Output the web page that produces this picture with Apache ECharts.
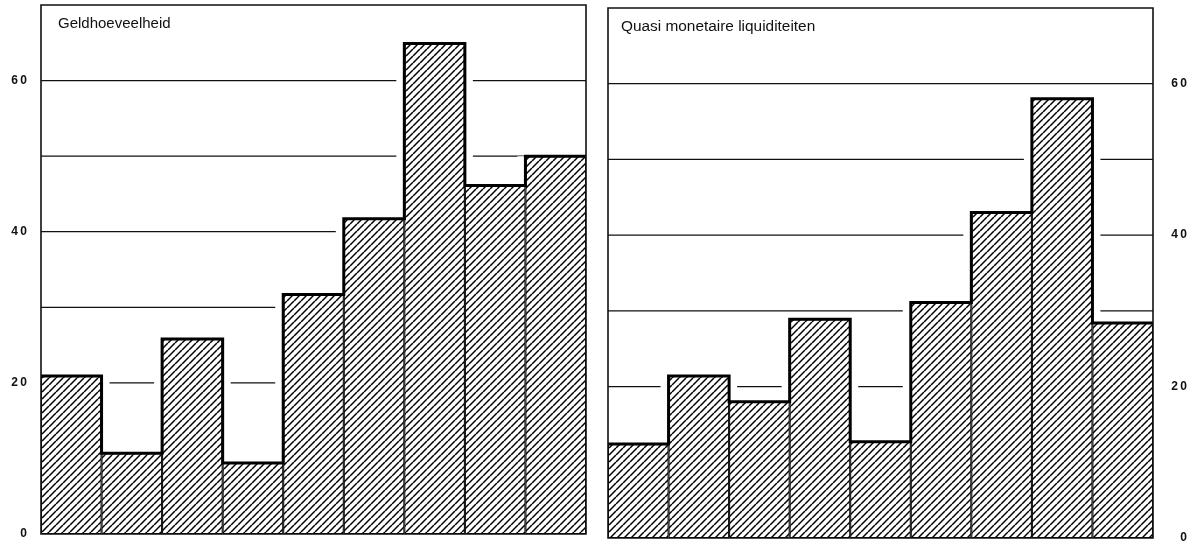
<!DOCTYPE html>
<html>
<head>
<meta charset="utf-8">
<script src="https://cdn.jsdelivr.net/npm/echarts@6/dist/echarts.min.js"></script>
<style>
    html, body {margin: 0; padding: 0; background: #fff;}
    #main {width: 1202px; height: 545px;}
</style>
</head>
<body>
<div id="main"></div>
<script>
// periods (no labels printed on the x axis)
let periods = ['1', '2', '3', '4', '5', '6', '7', '8', '9'];
// values
let geldhoeveelheid = [20.9, 10.7, 25.8, 9.4, 31.7, 41.7, 64.9, 46.1, 50.0];
let quasi_monetair = [12.4, 21.4, 18.0, 28.9, 12.7, 31.1, 43.0, 58.0, 28.4];
let y_ticks = [0, 20, 40, 60];
// horizontal rules that are printed (none at 10)
let rule_values = [20, 30, 40, 50, 60];

let panel_titles = ['Geldhoeveelheid', 'Quasi monetaire liquiditeiten'];

// hatch tile, lines going up to the right
function make_hatch() {
    let c = document.createElement('canvas');
    c.width = 7;
    c.height = 7;
    let ctx = c.getContext('2d');
    ctx.fillStyle = '#fff';
    ctx.fillRect(0, 0, 7, 7);
    ctx.strokeStyle = '#000';
    ctx.lineWidth = 1.5;
    for (let k = -7; k <= 7; k += 7) {
        ctx.beginPath();
        ctx.moveTo(k, 7);
        ctx.lineTo(k + 7, 0);
        ctx.stroke();
    }
    return c;
}
let hatch = make_hatch();

// points for the thick outline on top of the bars
function step_points(vals) {
    let pts = vals.map((v, i) => [i, v]);
    pts.push([vals.length, vals[vals.length - 1]]);
    return pts;
}

// one full-width rule per value
function render_rule(params, api) {
    let y = api.coord([0, api.value(0)])[1];
    let cs = params.coordSys;
    return {
        type: 'line',
        shape: {x1: cs.x, y1: y, x2: cs.x + cs.width, y2: y},
        style: {stroke: '#111', lineWidth: 1.2}
    };
}

// white band next to each bar so the rules stop short of it
function render_halo(params, api) {
    let idx = api.value(0);
    let v = api.value(1);
    let top = api.coord([idx, v]);
    let base = api.coord([idx, 0]);
    let w = api.size([1, 0])[0];
    return {
        type: 'rect',
        shape: {x: top[0] - w / 2 - 8, y: top[1], width: w + 16, height: base[1] - top[1]},
        style: {fill: '#fff'}
    };
}

function tick_label(v) {
    if (y_ticks.indexOf(v) < 0) return '';
    return String(v).split('').join('\u2009');
}

function y_axis(grid_index, pos) {
    return {
        type: 'value',
        gridIndex: grid_index,
        position: pos,
        min: 0,
        max: 70,
        interval: 10,
        axisLine: {show: false},
        axisTick: {show: false},
        axisLabel: {
            formatter: tick_label,
            margin: pos === 'left' ? 14 : 34,
            align: 'right',
            color: '#111',
            fontFamily: 'Liberation Sans',
            fontWeight: 'bold',
            fontSize: 12
        },
        splitLine: {show: false}
    };
}

function panel_series(vals, cat_axis, val_axis, y_index) {
    let pts = vals.map((v, i) => [i, v]);
    return [
        {
            type: 'custom',
            xAxisIndex: cat_axis,
            yAxisIndex: y_index,
            renderItem: render_rule,
            encode: {y: 0},
            data: rule_values.map(v => [v]),
            z: 0,
            silent: true
        },
        {
            type: 'custom',
            xAxisIndex: cat_axis,
            yAxisIndex: y_index,
            renderItem: render_halo,
            data: pts,
            z: 1,
            silent: true
        },
        {
            type: 'bar',
            xAxisIndex: cat_axis,
            yAxisIndex: y_index,
            data: vals,
            barCategoryGap: 0,
            itemStyle: {color: {image: hatch, repeat: 'repeat'}, borderColor: '#000', borderWidth: 1},
            z: 2,
            silent: true
        },
        {
            type: 'line',
            xAxisIndex: val_axis,
            yAxisIndex: y_index,
            data: step_points(vals),
            step: 'end',
            symbol: 'none',
            lineStyle: {color: '#000', width: 3, join: 'miter'},
            z: 3,
            silent: true
        }
    ];
}

var chart = echarts.init(document.getElementById('main'));
var option = {
    backgroundColor: '#fff',
    animation: false,
    title: [
        {text: panel_titles[0], left: 53, top: 11,
            textStyle: {fontFamily: 'Liberation Sans', fontWeight: 'normal', fontSize: 15, color: '#111'}},
        {text: panel_titles[1], left: 616, top: 14,
            textStyle: {fontFamily: 'Liberation Sans', fontWeight: 'normal', fontSize: 15.4, color: '#111'}}
    ],
    grid: [
        {left: 41, top: 5, width: 545, height: 529, show: true, borderColor: '#111', borderWidth: 1.6, z: 10},
        {left: 608, top: 8, width: 545, height: 530, show: true, borderColor: '#111', borderWidth: 1.6, z: 10}
    ],
    xAxis: [
        {type: 'category', gridIndex: 0, data: periods, show: false},
        {type: 'value', gridIndex: 0, min: 0, max: periods.length, show: false},
        {type: 'category', gridIndex: 1, data: periods, show: false},
        {type: 'value', gridIndex: 1, min: 0, max: periods.length, show: false}
    ],
    yAxis: [
        y_axis(0, 'left'),
        y_axis(1, 'right')
    ],
    series: [].concat(
        panel_series(geldhoeveelheid, 0, 1, 0),
        panel_series(quasi_monetair, 2, 3, 1)
    )
};
chart.setOption(option);
</script>
</body>
</html>
